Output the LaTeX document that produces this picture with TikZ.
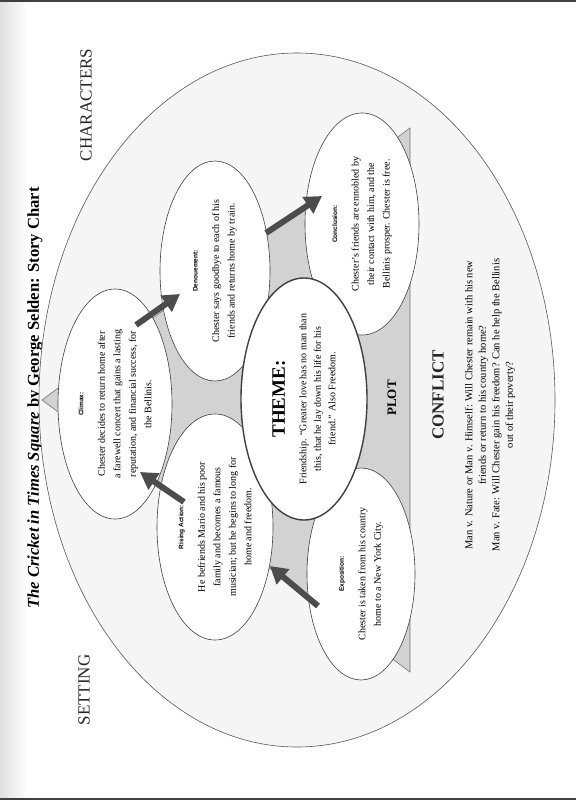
\documentclass[tikz,border=0pt]{standalone}
\usepackage{fontspec}
\setmainfont{Liberation Serif}
\setsansfont{Liberation Sans}
\usetikzlibrary{shapes.geometric,arrows.meta}
\newcommand{\stagetag}[1]{{\sffamily\bfseries\fontsize{6.5}{7.5}\selectfont #1}}

\begin{document}
\begin{tikzpicture}[
    x=1pt, y=-1pt,
    stage/.style={ellipse, draw=black!75, fill=white, line width=0.6pt, rotate=90, inner xsep=-14pt, inner ysep=-4pt, align=center, font=\fontsize{10}{15.5}\selectfont},
    themebox/.style={stage, line width=1.4pt, font=\fontsize{10}{14.5}\selectfont},
    heading/.style={rotate=90, font=\fontsize{17}{20}\selectfont, text=black!85},
    arrow/.style={line width=6pt, draw=black!70, -{Triangle[width=19pt,length=17pt]}}
]
    % Page
    \useasboundingbox (0,0) rectangle (576,800);
    \fill[white] (0,0) rectangle (576,800);
    \shade[left color=gray!25, right color=white] (0,0) rectangle (28,800);
    \draw[line width=3pt, black!75] (0,1) -- (576,1);
    \draw[line width=3pt, black!75] (0,799) -- (576,799);

    % Title
    \node[rotate=90, font=\bfseries\fontsize{16.6}{20}\selectfont] (title) at (35,398)
        {\textit{The Cricket in Times Square} by George Selden: Story Chart};

    % Outer ellipse and plot triangle
    \draw[fill=gray!8, draw=black!65, line width=0.6pt] (297,400) ellipse [x radius=258, y radius=347];
    \draw[fill=gray!35, draw=black!55, line width=0.6pt] (42,400) -- (410,128) -- (410,672) -- cycle;

    % Plot stages
    \node[stage, minimum width=230, minimum height=114] (climax) at (115,404)
        {\stagetag{Climax:}\\[6pt] Chester decides to return home after\\ a farewell concert that gains a lasting\\ reputation, and financial success, for\\ the Bellinis.};
    \node[stage, minimum width=226, minimum height=116] (rising) at (215,527)
        {\stagetag{Rising Action:}\\[6pt] He befriends Mario and his poor\\ family and becomes a famous\\ musician; but he begins to long for\\ home and freedom.};
    \node[stage, minimum width=220, minimum height=110] (denouement) at (215,271)
        {\stagetag{Denouement:}\\[6pt] Chester says goodbye to each of his\\ friends and returns home by train.};
    \node[stage, minimum width=222, minimum height=114] (conclusion) at (362,224)
        {\stagetag{Conclusion:}\\[6pt] Chester's friends are ennobled by\\ their contact with him, and the\\ Bellinis prosper. Chester is free.};
    \node[stage, minimum width=212, minimum height=108] (exposition) at (361,574)
        {\stagetag{Exposition:}\\[6pt] Chester is taken from his country\\ home to a New York City.};

    % Theme
    \node[themebox, minimum width=242, minimum height=126] (theme) at (304,399)
        {{\bfseries\fontsize{19}{22}\selectfont THEME:}\\[7pt] Friendship. ``Greater love has no man than\\ this, that he lay down his life for his\\ friend.'' Also Freedom.};

    % Arrows between stages
    \coordinate (a1) at (318,606);  \coordinate (a2) at (270,566);
    \coordinate (b1) at (184,502);  \coordinate (b2) at (140,472);
    \coordinate (c1) at (136,325);  \coordinate (c2) at (180,294);
    \coordinate (d1) at (266,233);  \coordinate (d2) at (322,196);
    \draw[arrow] (a1) -- (a2);
    \draw[arrow] (b1) -- (b2);
    \draw[arrow] (c1) -- (c2);
    \draw[arrow] (d1) -- (d2);

    % Headings
    \node[heading] (characters) at (86,105) {CHARACTERS};
    \node[heading] (setting) at (84,690) {SETTING};
    \node[rotate=90, font=\bfseries\fontsize{13}{15}\selectfont] (plot) at (392,398) {PLOT};
    \node[heading, font=\bfseries\fontsize{17}{20}\selectfont] (conflict) at (438,395) {CONFLICT};
    \node[rotate=90, align=center, font=\fontsize{10.5}{13.5}\selectfont] (conflicttext) at (490,405)
        {Man v. Nature or Man v. Himself: Will Chester remain with his new\\ friends or return to his country home?\\ Man v. Fate: Will Chester gain his freedom? Can he help the Bellinis\\ out of their poverty?};
\end{tikzpicture}
\end{document}
